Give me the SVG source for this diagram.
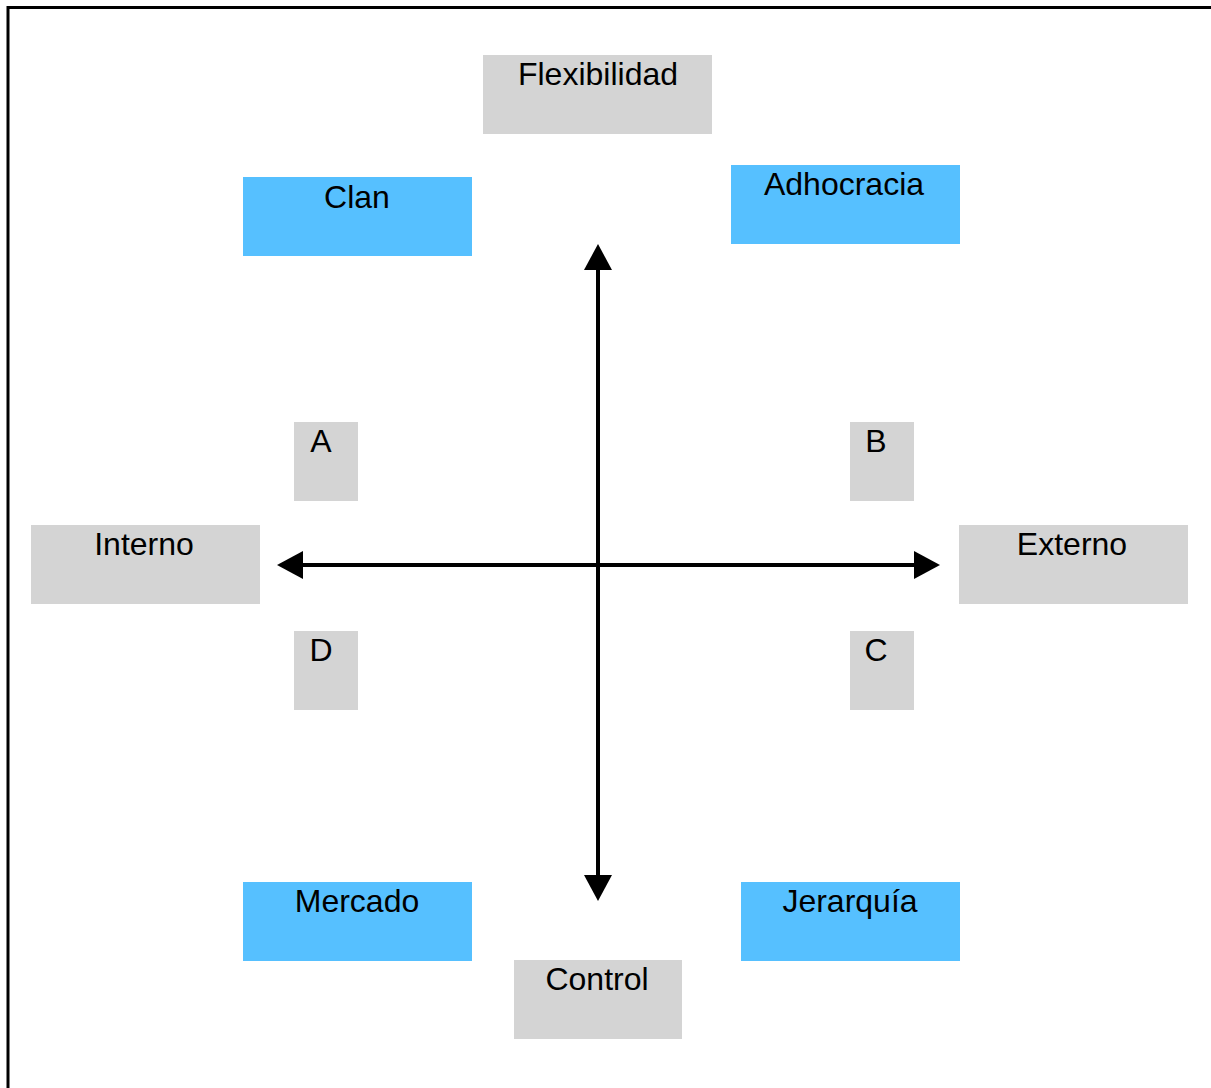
<svg xmlns="http://www.w3.org/2000/svg" width="1211" height="1088" viewBox="0 0 1211 1088">
<defs>
<style>
.g{fill:#d4d4d4}
.b{fill:#56c0ff}
text{font-family:"Liberation Sans",Arial,sans-serif;font-size:32px;fill:#000;text-anchor:middle}
.ax{stroke:#000;stroke-width:4;fill:none}
</style>
<marker id="ah" markerWidth="7" markerHeight="7" refX="0" refY="3.5" orient="auto" markerUnits="strokeWidth">
<path d="M0,0 L6.5,3.5 L0,7 Z" fill="#000"/>
</marker>
</defs>
<rect x="0" y="0" width="1211" height="1088" fill="#fff"/>
<rect x="8" y="7.5" width="1220" height="1100" fill="none" stroke="#000" stroke-width="3"/>
<g id="connectors">
<line class="ax" x1="598" y1="565" x2="598" y2="270" marker-end="url(#ah)"/>
<line class="ax" x1="598" y1="565" x2="598" y2="875" marker-end="url(#ah)"/>
<line class="ax" x1="598" y1="565" x2="303" y2="565" marker-end="url(#ah)"/>
<line class="ax" x1="598" y1="565" x2="914" y2="565" marker-end="url(#ah)"/>
</g>
<g id="flexibilidad"><rect class="g" x="483" y="55" width="229" height="79"/><text x="598" y="85">Flexibilidad</text></g>
<g id="clan"><rect class="b" x="243" y="177" width="229" height="79"/><text x="357" y="208">Clan</text></g>
<g id="adhocracia"><rect class="b" x="731" y="165" width="229" height="79"/><text x="844" y="195">Adhocracia</text></g>
<g id="a"><rect class="g" x="294" y="422" width="64" height="79"/><text x="321" y="452">A</text></g>
<g id="b"><rect class="g" x="850" y="422" width="64" height="79"/><text x="876" y="452">B</text></g>
<g id="interno"><rect class="g" x="31" y="525" width="229" height="79"/><text x="144" y="555">Interno</text></g>
<g id="externo"><rect class="g" x="959" y="525" width="229" height="79"/><text x="1072" y="555">Externo</text></g>
<g id="d"><rect class="g" x="294" y="631" width="64" height="79"/><text x="321" y="661">D</text></g>
<g id="c"><rect class="g" x="850" y="631" width="64" height="79"/><text x="876" y="661">C</text></g>
<g id="mercado"><rect class="b" x="243" y="882" width="229" height="79"/><text x="357" y="912">Mercado</text></g>
<g id="jerarquia"><rect class="b" x="741" y="882" width="219" height="79"/><text x="850" y="912">Jerarquía</text></g>
<g id="control"><rect class="g" x="514" y="960" width="168" height="79"/><text x="597" y="990">Control</text></g>
</svg>
